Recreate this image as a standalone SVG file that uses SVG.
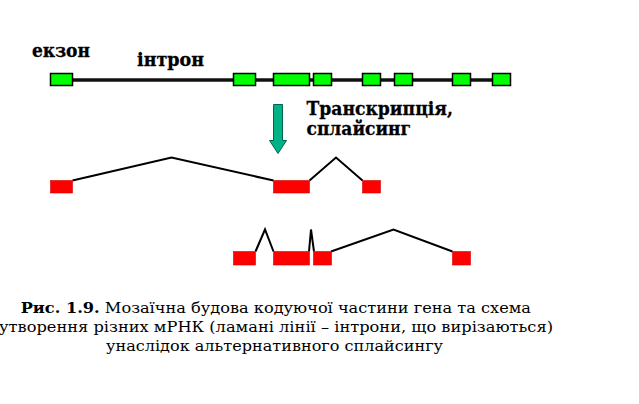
<svg xmlns="http://www.w3.org/2000/svg" width="639" height="404" viewBox="0 0 639 404">
<style>
.ex{fill:#00ff00;stroke:#000;stroke-width:1.5}
.rd{fill:#ff0000;stroke:#d00000;stroke-width:0.6}
.gene{stroke:#111;stroke-width:3.5;fill:none}
.intr{stroke:#000;stroke-width:2;fill:none;stroke-linejoin:miter}
.lbl{font-family:"DejaVu Serif","Liberation Serif",serif;font-weight:bold;font-size:18px;fill:#000;stroke:#000;stroke-width:0.3}
.cap{font-family:"DejaVu Serif","Liberation Serif",serif;font-size:15.5px;fill:#000}
</style>
<rect width="639" height="404" fill="#fff"/>
<g id="connectors">
<line class="gene" x1="72" y1="80" x2="493" y2="80"/>
<polyline class="intr" points="72.5,180.5 171.5,157.5 273.5,180.5"/>
<polyline class="intr" points="309.5,180.5 336,157.5 362.5,180.5"/>
<polyline class="intr" points="255.5,251.5 265,229.5 273.5,251.5"/>
<polyline class="intr" points="309,251.5 311,229.5 314,251.5"/>
<polyline class="intr" points="331,251.5 393.5,229.5 452.5,251.5"/>
</g>
<g id="gene">
<rect class="ex" x="50.5" y="73.5" width="22" height="12"/>
<rect class="ex" x="233.5" y="73.5" width="22" height="12"/>
<rect class="ex" x="273.5" y="73.5" width="36" height="12"/>
<rect class="ex" x="313.5" y="73.5" width="18" height="12"/>
<rect class="ex" x="362.5" y="73.5" width="18" height="12"/>
<rect class="ex" x="394.5" y="73.5" width="18" height="12"/>
<rect class="ex" x="452.5" y="73.5" width="18" height="12"/>
<rect class="ex" x="492.5" y="73.5" width="18" height="12"/>
</g>
<g id="label-exon"><text class="lbl" x="32" y="57" textLength="58" lengthAdjust="spacingAndGlyphs">екзон</text></g>
<g id="label-intron"><text class="lbl" x="137" y="66" textLength="67" lengthAdjust="spacingAndGlyphs">інтрон</text></g>
<g id="arrow">
<polygon points="273.5,104.5 282.5,104.5 282.5,140.5 286.5,140.5 278,153.5 269.5,140.5 273.5,140.5" fill="#00b386" stroke="#00664a" stroke-width="1"/>
</g>
<g id="label-process">
<text class="lbl" x="306.5" y="115" textLength="146.5" lengthAdjust="spacingAndGlyphs">Транскрипція,</text>
<text class="lbl" x="306.5" y="135" textLength="104.5" lengthAdjust="spacingAndGlyphs">сплайсинг</text>
</g>
<g id="mrna1">
<rect class="rd" x="50.5" y="180.5" width="22" height="12.5"/>
<rect class="rd" x="273.5" y="180.5" width="36" height="12.5"/>
<rect class="rd" x="362.5" y="180.5" width="18" height="12.5"/>
</g>
<g id="mrna2">
<rect class="rd" x="233.5" y="251.5" width="22" height="13.5"/>
<rect class="rd" x="273.5" y="251.5" width="36" height="13.5"/>
<rect class="rd" x="313.5" y="251.5" width="18" height="13.5"/>
<rect class="rd" x="452.5" y="251.5" width="18" height="13.5"/>
</g>
<g id="caption">
<text class="cap" x="20.7" y="312.5" textLength="510.3" lengthAdjust="spacingAndGlyphs"><tspan font-weight="bold">Рис. 1.9.</tspan> Мозаїчна будова кодуючої частини гена та схема</text>
<text class="cap" x="-1" y="332" textLength="554" lengthAdjust="spacingAndGlyphs">утворення різних мРНК (ламані лінії – інтрони, що вирізаються)</text>
<text class="cap" x="106" y="351" textLength="337" lengthAdjust="spacingAndGlyphs">унаслідок альтернативного сплайсингу</text>
</g>
</svg>
